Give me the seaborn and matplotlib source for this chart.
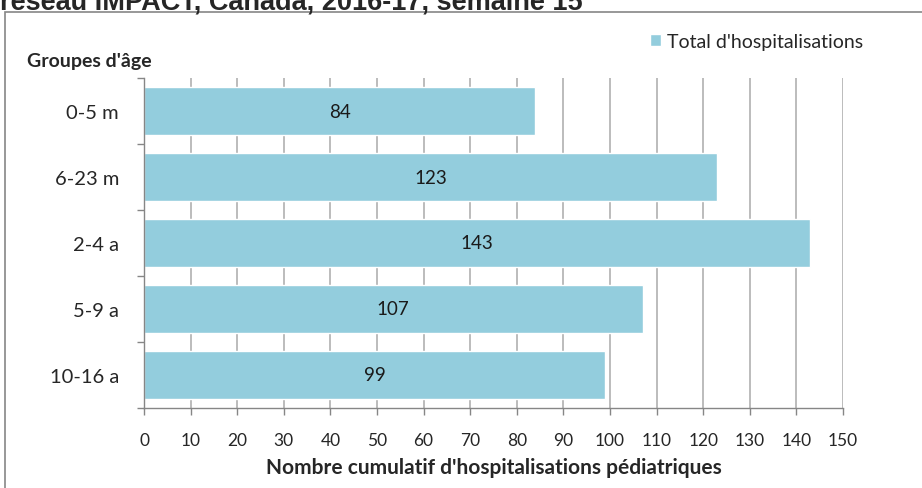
import numpy as np
import pandas as pd
import matplotlib
matplotlib.use('Agg')
import matplotlib.pyplot as plt
from matplotlib.patches import Rectangle
import seaborn as sns

groupes = ['0-5 m', '6-23 m', '2-4 a', '5-9 a', '10-16 a']
total = [84, 123, 143, 107, 99]
xticks = list(range(0, 151, 10))

df = pd.DataFrame({'groupe': groupes, 'total': total})

sns.set_style('white')
plt.rcParams['font.family'] = ['Lato', 'DejaVu Sans']

fig = plt.figure(figsize=(9.22, 4.89), dpi=100)
ax = fig.add_axes([144 / 922, 1 - 409 / 489, (843 - 144) / 922, (409 - 79) / 489])

sns.barplot(data=df, x='total', y='groupe', color='#93CDDD', saturation=1,
            width=0.72, ax=ax, label="Total d'hospitalisations")

for i, v in enumerate(total):
    ax.text(v / 2, i, str(v), ha='center', va='center', fontsize=13.5, color='#1a1a1a')

ax.set_xlim(0, 150)
ax.set_ylim(4.5, -0.5)
ax.set_xticks(xticks)
ax.set_xticklabels([str(t) for t in xticks], fontsize=12.5)
ax.tick_params(axis='y', labelsize=14.5, length=0, pad=18)
ax.tick_params(axis='x', length=5, width=1, color='#868686', direction='out', pad=12)
ax.set_yticks(np.arange(-0.5, 5, 1), minor=True)
ax.tick_params(axis='y', which='minor', length=5, width=1, color='#868686', direction='out', left=True)
ax.tick_params(axis='x', bottom=True)
ax.grid(True, axis='x', color='#B0B0B0', linewidth=1.2)
ax.set_axisbelow(True)
for s in ['top', 'right']:
    ax.spines[s].set_visible(False)
for s in ['left', 'bottom']:
    ax.spines[s].set_color('#868686')
    ax.spines[s].set_linewidth(1)

ax.set_xlabel("Nombre cumulatif d'hospitalisations pédiatriques", fontsize=15, fontweight='bold', labelpad=7)
ax.set_ylabel('')
ax.text((27 - 144) / 699, 1 + 17 / 330, "Groupes d'âge", transform=ax.transAxes,
        fontsize=14, fontweight='bold', ha='left', va='center')

leg = ax.legend(loc='center left', bbox_to_anchor=(0.724, 1.112), frameon=False, fontsize=14,
                handlelength=0.55, handleheight=0.55, handletextpad=0.3, borderaxespad=0, borderpad=0)

fig.patches.append(Rectangle((5 / 922, -0.1), 1.2, 0.1 + 1 - 13 / 489, transform=fig.transFigure,
                             fill=False, edgecolor='#868686', linewidth=1.2))
fig.text(0, 1 - 10 / 489, "réseau IMPACT, Canada, 2016-17, semaine 15", fontsize=19.5,
         fontweight='bold', family='Liberation Sans', ha='left', va='baseline')

fig.savefig('out.png', dpi=100)
